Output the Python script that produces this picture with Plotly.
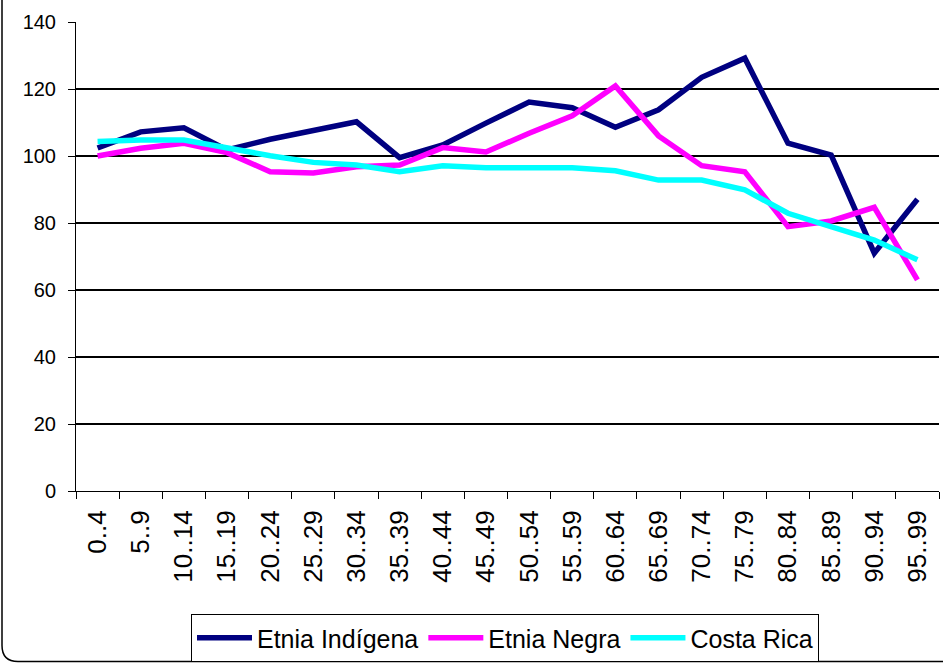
import plotly.graph_objects as go

categories = ["0..4", "5..9", "10..14", "15..19", "20..24", "25..29", "30..34", "35..39",
              "40..44", "45..49", "50..54", "55..59", "60..64", "65..69", "70..74", "75..79",
              "80..84", "85..89", "90..94", "95..99"]
indigena = [102.4, 107.2, 108.4, 101.8, 105.0, 107.5, 110.2, 99.5, 103.3, 109.8,
            116.1, 114.4, 108.6, 113.8, 123.5, 129.2, 103.8, 100.3, 71.0, 87.1]
negra = [100.0, 102.3, 103.8, 101.0, 95.3, 94.9, 96.8, 97.3, 102.5, 101.2,
         106.8, 112.0, 120.9, 106.0, 97.1, 95.3, 78.9, 80.6, 84.7, 63.0]
costa_rica = [104.3, 104.8, 104.8, 102.3, 100.1, 98.1, 97.3, 95.3, 97.1, 96.5,
              96.5, 96.5, 95.6, 92.8, 92.8, 89.9, 82.9, 78.9, 74.9, 69.0]
series_names = ["Etnia Indígena", "Etnia Negra", "Costa Rica"]
series_colors = ["#000080", "#FF00FF", "#00FFFF"]
y_ticks = [0, 20, 40, 60, 80, 100, 120, 140]

FONT = "Arial, Liberation Sans, sans-serif"
W, H = 943, 665
L, R, T, B = 76, 939, 22, 491  # plot area in pixels

fig = go.Figure()
for name, vals, col in zip(series_names, [indigena, negra, costa_rica], series_colors):
    fig.add_trace(go.Scatter(x=categories, y=vals, name=name, mode="lines",
                             line=dict(color=col, width=5.5)))

def px(x):
    return (x - L) / (R - L)

def py(y):
    return (B - y) / (B - T)

# rounded outer border (chart area frame)
x0, x1 = px(2), px(955)
y0, y1 = py(661.5), py(-10)
rx, ry = 16 / (R - L), 16 / (B - T)
path = (f"M {x0},{y1} L {x0},{y0 + ry} Q {x0},{y0} {x0 + rx},{y0} L {x1},{y0}")
fig.add_shape(type="path", path=path, xref="paper", yref="paper",
              line=dict(color="black", width=1.5), layer="below")

fig.update_layout(
    width=W, height=H,
    margin=dict(l=L, r=W - R, t=T, b=H - B, autoexpand=False),
    paper_bgcolor="white", plot_bgcolor="white",
    font=dict(family=FONT, color="black"),
    showlegend=True,
    legend=dict(orientation="h", x=px(505), xanchor="center", y=py(614), yanchor="top",
                bordercolor="black", borderwidth=1, bgcolor="white",
                font=dict(size=25, family=FONT, color="black"),
                itemwidth=55, tracegroupgap=0),
)
fig.update_xaxes(
    type="category", range=[-0.5, len(categories) - 0.5],
    showline=True, linecolor="black", linewidth=1,
    showgrid=False, zeroline=False,
    ticks="outside", tickson="boundaries", ticklen=7, tickcolor="black", tickwidth=1,
    tickangle=-90, tickfont=dict(size=26, family=FONT, color="black"),
    ticklabelstandoff=8, mirror=False,
)
fig.update_yaxes(
    range=[0, 140], tickvals=y_ticks, ticktext=[str(v) for v in y_ticks],
    showline=True, linecolor="black", linewidth=1,
    showgrid=True, gridcolor="black", gridwidth=1.5, zeroline=False,
    ticks="outside", ticklen=7, tickcolor="black", tickwidth=1,
    tickfont=dict(size=20, family=FONT, color="black"),
    ticklabelstandoff=8,
)

fig.write_html("out.html", config={"displayModeBar": False},
               post_script="document.body.style.margin='0px';document.body.style.overflow='hidden';")
